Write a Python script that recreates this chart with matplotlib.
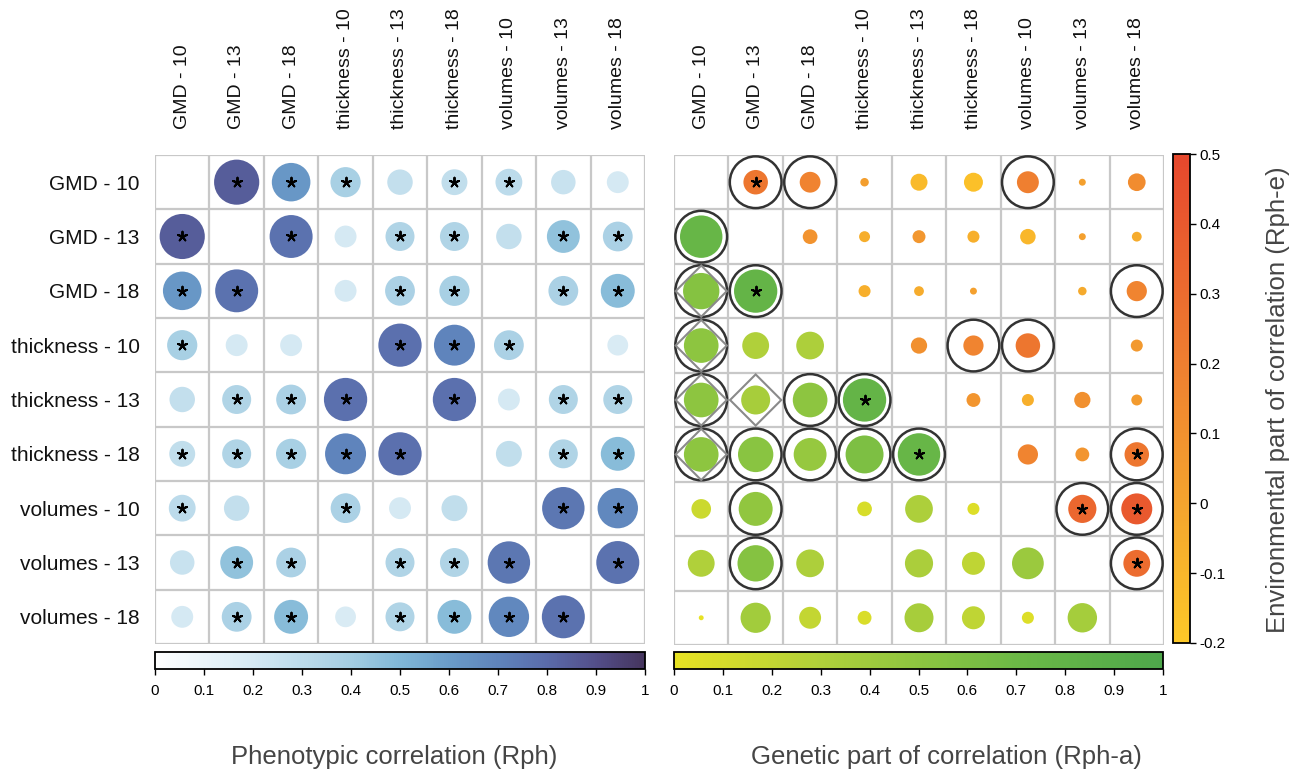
import numpy as np
import matplotlib.pyplot as plt
from matplotlib.patches import Circle, Polygon
from matplotlib.colors import LinearSegmentedColormap, Normalize
from matplotlib.cm import ScalarMappable

plt.rcParams['font.family'] = ['Liberation Sans', 'DejaVu Sans']

# ==============================================
# data
# ==============================================
labels = ['GMD - 10', 'GMD - 13', 'GMD - 18',
          'thickness - 10', 'thickness - 13', 'thickness - 18',
          'volumes - 10', 'volumes - 13', 'volumes - 18']
nan = np.nan

# phenotypic correlation (symmetric, upper triangle given)
rph_upper = [
    [nan, 0.85, 0.62, 0.38, 0.27, 0.28, 0.30, 0.25, 0.20],
    [nan, nan, 0.77, 0.20, 0.35, 0.35, 0.27, 0.45, 0.37],
    [nan, nan, nan, 0.20, 0.37, 0.38, nan, 0.37, 0.48],
    [nan, nan, nan, nan, 0.78, 0.70, 0.37, nan, 0.18],
    [nan, nan, nan, nan, nan, 0.78, 0.20, 0.35, 0.35],
    [nan, nan, nan, nan, nan, nan, 0.28, 0.35, 0.48],
    [nan, nan, nan, nan, nan, nan, nan, 0.75, 0.68],
    [nan, nan, nan, nan, nan, nan, nan, nan, 0.77],
    [nan, nan, nan, nan, nan, nan, nan, nan, nan],
]
rph_stars = [(0, 1), (0, 2), (0, 3), (0, 5), (0, 6), (1, 2), (1, 4), (1, 5), (1, 7), (1, 8),
             (2, 4), (2, 5), (2, 7), (2, 8), (3, 4), (3, 5), (3, 6), (4, 5), (4, 7), (4, 8),
             (5, 7), (5, 8), (6, 7), (6, 8), (7, 8)]

# genetic part (lower triangle) and environmental part (upper triangle)
rpha_rphe = [
    [nan, 0.25, 0.18, 0.03, -0.12, -0.15, 0.20, 0.02, 0.13],
    [0.75, nan, 0.09, -0.05, 0.07, -0.06, -0.10, 0.02, -0.04],
    [0.55, 0.78, nan, -0.06, -0.04, 0.02, nan, -0.03, 0.17],
    [0.50, 0.30, 0.32, nan, 0.11, 0.17, 0.25, nan, 0.06],
    [0.50, 0.35, 0.50, 0.78, nan, 0.08, -0.06, 0.11, 0.05],
    [0.50, 0.52, 0.45, 0.60, 0.75, nan, 0.17, 0.08, 0.25],
    [0.16, 0.48, nan, 0.09, 0.32, 0.06, nan, 0.33, 0.40],
    [0.30, 0.55, 0.32, nan, 0.33, 0.22, 0.42, nan, 0.30],
    [0.01, 0.38, 0.20, 0.08, 0.35, 0.22, 0.06, 0.36, nan],
]
ring_cells = [(0, 1), (0, 2), (0, 6), (2, 8), (3, 5), (3, 6), (5, 8), (6, 7), (6, 8), (7, 8),
              (1, 0), (2, 0), (2, 1), (3, 0), (4, 0), (4, 2), (4, 3), (5, 0), (5, 1), (5, 2),
              (5, 3), (5, 4), (6, 1), (7, 1)]
diamond_cells = [(2, 0), (3, 0), (4, 0), (4, 1), (5, 0)]
right_stars = [(0, 1), (2, 1), (4, 3), (5, 4), (5, 8), (6, 7), (6, 8), (7, 8)]

# ==============================================
# colour maps
# ==============================================
cmap_ph = LinearSegmentedColormap.from_list('ph', [
    (0.0, '#FFFFFF'), (0.2, '#D5E9F3'), (0.4, '#A3CDE2'), (0.5, '#80B7D7'),
    (0.6, '#6A9CC9'), (0.7, '#5F84BC'), (0.8, '#5A6BAA'), (0.9, '#534F8A'),
    (1.0, '#45355E')])
cmap_g = LinearSegmentedColormap.from_list('g', [
    (0.0, '#E8E223'), (0.3, '#B0D03A'), (0.5, '#8DC540'), (0.7, '#6CB946'),
    (1.0, '#4EA74B')])
cmap_e = LinearSegmentedColormap.from_list('e', [
    (0.0, '#FDC928'), (2 / 7, '#F4A42E'), (4 / 7, '#EF7F30'), (1.0, '#E6472D')])
norm_ph = Normalize(0, 1)
norm_g = Normalize(0, 1)
norm_e = Normalize(-0.2, 0.5)

rph = np.array(rph_upper)
rph = np.where(np.isnan(rph), rph.T, rph)
rge = np.array(rpha_rphe)
n = len(labels)

fig = plt.figure(figsize=(13.01, 7.72), dpi=100)
W, H = 1301, 772


def px_axes(x0, y0, x1, y1):
    return fig.add_axes([x0 / W, 1 - y1 / H, (x1 - x0) / W, (y1 - y0) / H])


def setup_grid(ax):
    ax.set_xlim(-0.5, n - 0.5)
    ax.set_ylim(n - 0.5, -0.5)
    for k in range(n + 1):
        ax.axhline(k - 0.5, color='#C8C8C8', lw=1.6, zorder=1)
        ax.axvline(k - 0.5, color='#C8C8C8', lw=1.6, zorder=1)
    for s in ax.spines.values():
        s.set_visible(False)
    ax.xaxis.tick_top()
    ax.set_xticks(range(n))
    ax.set_xticklabels(labels, rotation=90, fontsize=14, color='#111111')
    ax.tick_params(axis='x', length=0, pad=19)
    ax.set_yticks(range(n))
    ax.tick_params(axis='y', length=0, pad=11)


def add_stars(ax, cells):
    xs = [c[1] for c in cells]
    ys = [c[0] for c in cells]
    ax.scatter(xs, ys, marker=(5, 2, 0), s=48, linewidths=1.4, color='black', zorder=6)


# left panel
ax1 = px_axes(155, 155, 645, 644)
setup_grid(ax1)
ax1.set_yticklabels(labels, fontsize=15, color='#111111')
for i in range(n):
    for j in range(n):
        v = rph[i, j]
        if i == j or np.isnan(v):
            continue
        ax1.add_patch(Circle((j, i), 0.45 * np.sqrt(abs(v)), facecolor=cmap_ph(norm_ph(v)),
                             edgecolor='none', zorder=2))
add_stars(ax1, rph_stars + [(j, i) for i, j in rph_stars])

# right panel
ax2 = px_axes(674, 155, 1164, 645)
setup_grid(ax2)
ax2.set_yticklabels([])
for i in range(n):
    for j in range(n):
        v = rge[i, j]
        if i == j or np.isnan(v):
            continue
        col = cmap_g(norm_g(v)) if i > j else cmap_e(norm_e(v))
        ax2.add_patch(Circle((j, i), 0.45 * np.sqrt(abs(v)), facecolor=col,
                             edgecolor='none', zorder=2))
for i, j in ring_cells:
    ax2.add_patch(Circle((j, i), 0.475, facecolor='none', edgecolor='#333333', lw=1.8, zorder=3))
for i, j in diamond_cells:
    d = 0.47
    ax2.add_patch(Polygon([(j, i - d), (j + d, i), (j, i + d), (j - d, i)], closed=True,
                          facecolor='none', edgecolor='#8A8A8A', lw=1.5, zorder=4))
add_stars(ax2, right_stars)


# colour bars
def hbar(x0, x1, cmap, norm, ticks, ticklabels):
    cax = px_axes(x0, 652, x1, 669)
    cb = fig.colorbar(ScalarMappable(norm=norm, cmap=cmap), cax=cax, orientation='horizontal')
    cb.set_ticks(ticks)
    cb.set_ticklabels(ticklabels)
    cb.outline.set_linewidth(1.3)
    cb.outline.set_edgecolor('black')
    cax.tick_params(labelsize=11, length=4, width=1, pad=7, colors='black')
    return cb


tk = [k / 10 for k in range(11)]
tl = ['0'] + ['%.1f' % t for t in tk[1:-1]] + ['1']
hbar(155, 645, cmap_ph, norm_ph, tk, tl)
hbar(674, 1163, cmap_g, norm_g, tk, tl)

cax3 = px_axes(1173, 154, 1190, 643)
cb3 = fig.colorbar(ScalarMappable(norm=norm_e, cmap=cmap_e), cax=cax3, orientation='vertical')
etk = [-0.2, -0.1, 0, 0.1, 0.2, 0.3, 0.4, 0.5]
cb3.set_ticks(etk)
cb3.set_ticklabels(['-0.2', '-0.1', '0', '0.1', '0.2', '0.3', '0.4', '0.5'])
cb3.outline.set_linewidth(1.3)
cax3.tick_params(labelsize=11, length=4, width=1, pad=3)

fig.text(394 / W, 1 - 757 / H, 'Phenotypic correlation (Rph)', fontsize=18.5,
         color='#454545', ha='center', va='center')
fig.text(946 / W, 1 - 757 / H, 'Genetic part of correlation (Rph-a)', fontsize=18.5,
         color='#454545', ha='center', va='center')
fig.text(1278 / W, 1 - 400 / H, 'Environmental part of correlation (Rph-e)', fontsize=18.5,
         color='#454545', ha='center', va='center', rotation=90)

fig.savefig('out.png', dpi=100)
